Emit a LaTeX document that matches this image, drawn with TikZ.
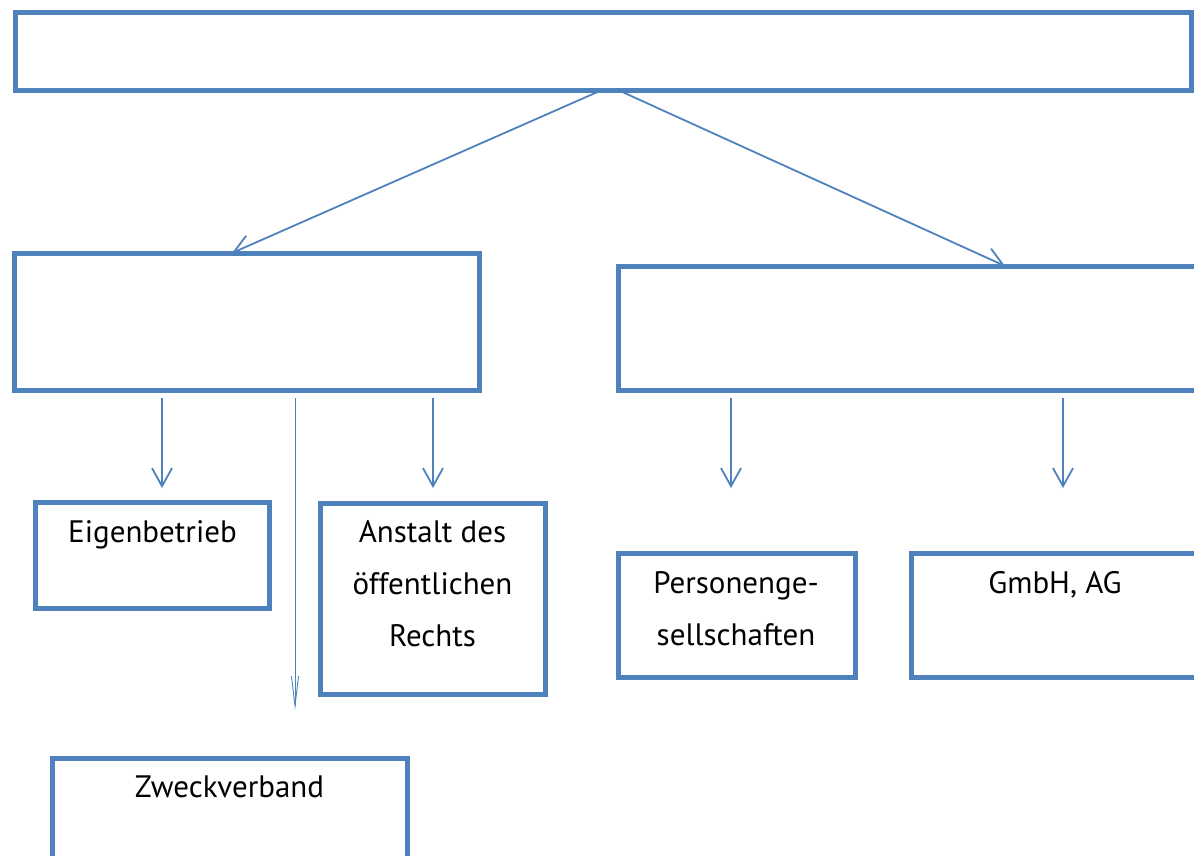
\documentclass[tikz,border=0pt]{standalone}
\usepackage{fontspec}
\setmainfont{PT Sans}
\usetikzlibrary{arrows.meta}
\definecolor{boxblue}{HTML}{4F81BD}
\begin{document}
\begin{tikzpicture}[x=1pt,y=-1pt,
  box/.style={draw=boxblue, line width=5pt, rectangle, inner sep=0pt, outer sep=0pt, anchor=north west},
  arr/.style={draw=boxblue, line width=1.8pt, -{Straight Barb[length=18pt,width=20pt,line width=1.8pt]}},
  thinarr/.style={draw=boxblue, line width=0.9pt, -{Straight Barb[length=30pt,width=7pt,line width=0.9pt]}},
  lbl/.style={font=\fontsize{31}{52}\selectfont, anchor=base, align=center, inner sep=0pt}
]
\useasboundingbox (0,0) rectangle (1194,855);
\begin{scope}
\clip (0,0) rectangle (1194,855);
\node[box, minimum width=1176pt, minimum height=78pt] (top) at (15,12) {};
\node[box, minimum width=465pt, minimum height=137pt] (L) at (14.5,253) {};
\node[box, minimum width=602pt, minimum height=124pt] (R) at (618,266) {};
\node[box, minimum width=234pt, minimum height=105.5pt] (Eig) at (35.5,502.5) {};
\node[box, minimum width=225pt, minimum height=191pt] (Anst) at (320,503) {};
\node[box, minimum width=237pt, minimum height=124pt] (Pers) at (618,553) {};
\node[box, minimum width=309pt, minimum height=124pt] (Gmb) at (911,553) {};
\node[box, minimum width=355pt, minimum height=122pt] (Zw) at (52,758) {};

\node[lbl] (tEig) at (152.5,542) {Eigenbetrieb};
\node[lbl] (tAnst) at (432.5,646) {Anstalt des\\öffentlichen\\Rechts};
\node[lbl] (tPers) at (736,645) {Personenge-\\sellschaften};
\node[lbl] (tGmb) at (1055,593) {GmbH, AG};
\node[lbl] (tZw) at (229.5,797) {Zweckverband};

\draw[arr] ([xshift=-1pt]top.south) -- ([xshift=-15pt]L.north);
\draw[arr] ([xshift=15pt]top.south) -- ([xshift=86pt]R.north);
\draw[arr] ([xshift=-85pt,yshift=-8pt]L.south) -- ([xshift=9.5pt,yshift=14.5pt]Eig.north);
\draw[thinarr] ([xshift=48pt,yshift=-8pt]L.south) -- ([xshift=65.5pt,yshift=48pt]Zw.north);
\draw[arr] ([xshift=186pt,yshift=-8pt]L.south) -- ([xshift=0.5pt,yshift=15pt]Anst.north);
\draw[arr] ([xshift=-188pt,yshift=-8pt]R.south) -- ([xshift=-5.5pt,yshift=65pt]Pers.north);
\draw[arr] ([xshift=144pt,yshift=-8pt]R.south) -- ([xshift=-2.5pt,yshift=65pt]Gmb.north);
\end{scope}
\end{tikzpicture}
\end{document}
